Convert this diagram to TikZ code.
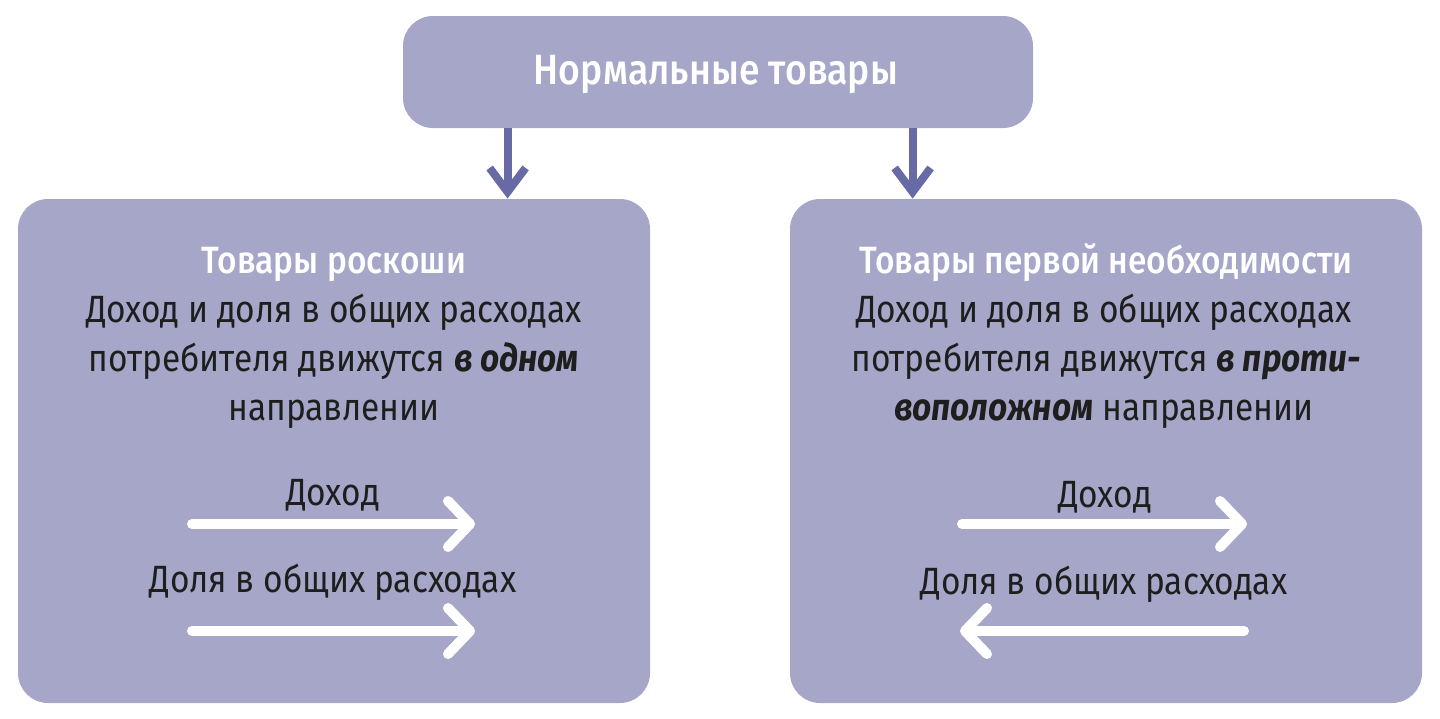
\documentclass[tikz,border=0pt]{standalone}
\usepackage{fontspec}
\setmainfont[FakeStretch=0.88]{Fira Sans}
\newfontfamily\medfont[FakeStretch=0.88]{Fira Sans Medium}
\usetikzlibrary{arrows.meta,calc}
\definecolor{boxfill}{HTML}{A6A7C8}
\definecolor{conncol}{HTML}{676AA5}
\definecolor{txt}{HTML}{1E1E1E}
\begin{document}
\begin{tikzpicture}[x=0.5pt,y=-0.5pt,
  box/.style={fill=boxfill,rounded corners=15pt,inner sep=0pt},
  conn/.style={draw=conncol,line width=4pt,-{Straight Barb[length=12pt,width=18pt]}},
  warrow/.style={draw=white,line width=5pt,line cap=round,-{Straight Barb[length=11pt,width=23pt,line cap=round,line join=round]}},
  ttl/.style={anchor=base,text=white,font=\medfont\fontsize{19}{23}\selectfont,inner sep=0pt},
  body/.style={anchor=base,text=txt,font=\fontsize{19}{23}\selectfont,inner sep=0pt}]
\useasboundingbox (0,0) rectangle (1440,718);
\node[box,minimum width=315pt,minimum height=56pt] (top) at (718,72) {};
\node[ttl,font=\medfont\fontsize{21.2}{25}\selectfont] (toptxt) at (716,84) {Нормальные товары};
\node[box,minimum width=316pt,minimum height=252pt] (lb) at (334,451) {};
\node[box,minimum width=316pt,minimum height=252pt] (rb) at (1106,451) {};
\coordinate (s1) at ($(top.south west)+(105,0)$);
\coordinate (s2) at ($(top.south west)+(510,0)$);
\draw[conn] (s1) -- (s1 |- lb.north);
\draw[conn] (s2) -- (s2 |- rb.north);
% left box
\node[ttl] (l1) at (334,273) {Товары роскоши};
\node[body] (l2) at (334,322) {Доход и доля в общих расходах};
\node[body] (l3) at (334,371.5) {потребителя движутся \textbf{\textit{в одном}}};
\node[body] (l4) at (334,420) {направлении};
\node[body] (l5) at (333,505) {Доход};
\node[body] (l6) at (333,592) {Доля в общих расходах};
\coordinate (la1) at (192,524);
\coordinate (la2) at (475,524);
\coordinate (la3) at (192,631);
\coordinate (la4) at (475,631);
\draw[warrow] (la1) -- (la2);
\draw[warrow] (la3) -- (la4);
% right box
\node[ttl] (r1) at (1106,273) {Товары первой необходимости};
\node[body] (r2) at (1104,322) {Доход и доля в общих расходах};
\node[body] (r3) at (1106,371.5) {потребителя движутся \textbf{\textit{в проти-}}};
\node[body] (r4) at (1104,420) {\textbf{\textit{воположном}} направлении};
\node[body] (r5) at (1105,507) {Доход};
\node[body] (r6) at (1104,594) {Доля в общих расходах};
\coordinate (ra1) at (962,524);
\coordinate (ra2) at (1247,524);
\coordinate (ra3) at (1244,631);
\coordinate (ra4) at (960,631);
\draw[warrow] (ra1) -- (ra2);
\draw[warrow] (ra3) -- (ra4);
\end{tikzpicture}
\end{document}
